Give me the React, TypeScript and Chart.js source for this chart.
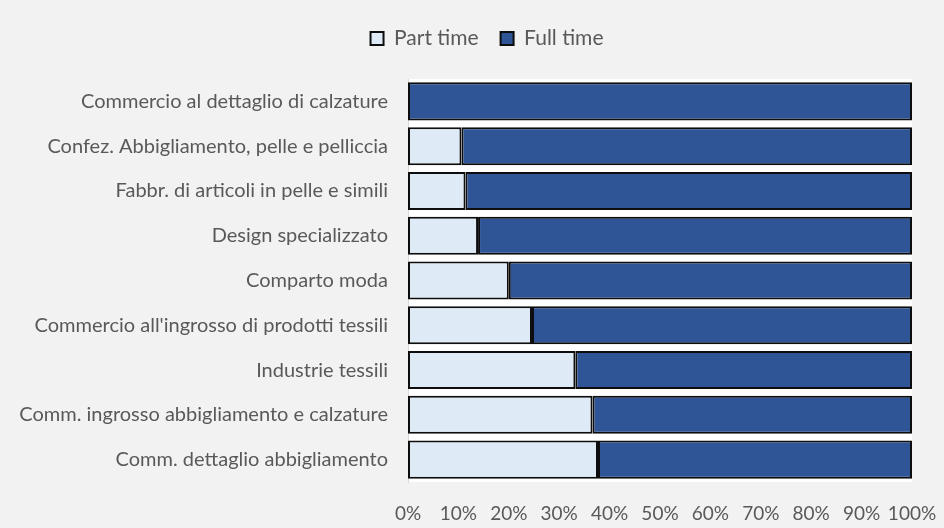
import React, { useEffect, useRef } from "react";
import { Chart, registerables } from "chart.js";

Chart.register(...registerables);

const categories = [
  "Commercio al dettaglio di calzature",
  "Confez. Abbigliamento, pelle e pelliccia",
  "Fabbr. di articoli in pelle e simili",
  "Design specializzato",
  "Comparto moda",
  "Commercio all'ingrosso di prodotti tessili",
  "Industrie tessili",
  "Comm. ingrosso abbigliamento e calzature",
  "Comm. dettaglio abbigliamento",
];
const partTime = [0, 10.6, 11.4, 13.9, 20.0, 24.6, 33.2, 36.6, 37.7];
const fullTime = [100, 89.4, 88.6, 86.1, 80.0, 75.4, 66.8, 63.4, 62.3];
const seriesNames = ["Part time", "Full time"];

const FONT = "Lato, 'Open Sans', sans-serif";
const TEXT = "#595959";

const bgPlugin = {
  id: "bgPlugin",
  afterLayout(chart: any) {
    // centre the legend over the whole figure like the original (shift right)
    const lg = chart.legend;
    if (lg) {
      lg.left += 31;
      lg.right += 31;
    }
  },
  beforeDraw(chart: any) {
    const { ctx, chartArea, width, height } = chart;
    ctx.save();
    ctx.fillStyle = "#f2f2f2";
    ctx.fillRect(0, 0, width, height);
    ctx.fillStyle = "#ffffff";
    ctx.fillRect(chartArea.left, chartArea.top, chartArea.right - chartArea.left, chartArea.bottom - chartArea.top);
    ctx.restore();
  },
};

export default function App() {
  const ref = useRef<HTMLCanvasElement>(null);
  useEffect(() => {
    const chart = new Chart(ref.current!, {
      type: "bar",
      data: {
        labels: categories,
        datasets: [
          {
            label: seriesNames[0],
            data: partTime,
            backgroundColor: "#DEEBF7",
            borderColor: "#0d0d0d",
            borderWidth: 2,
            borderSkipped: false,
            categoryPercentage: 0.85,
            barPercentage: 1,
          },
          {
            label: seriesNames[1],
            data: fullTime,
            backgroundColor: "#2F5597",
            borderColor: "#0d0d0d",
            borderWidth: 2,
            borderSkipped: false,
            categoryPercentage: 0.85,
            barPercentage: 1,
          },
        ],
      },
      options: {
        indexAxis: "y",
        responsive: false,
        animation: false,
        layout: { padding: { left: 0, right: 32, top: 6, bottom: 0 } },
        plugins: {
          legend: {
            position: "top",
            labels: {
              font: { family: FONT, size: 21 },
              color: TEXT,
              boxWidth: 13,
              boxHeight: 13,
              padding: 22,
            },
          },
          tooltip: { enabled: false },
        },
        scales: {
          x: {
            stacked: true,
            min: 0,
            max: 100,
            grid: { display: false, drawTicks: false },
            border: { display: false },
            ticks: {
              stepSize: 10,
              callback: (v: any) => v + "%",
              font: { family: FONT, size: 19 },
              color: TEXT,
              padding: 20,
              maxRotation: 0,
              autoSkip: false,
            },
            afterFit: (s: any) => {
              s.height = 46;
              s.paddingLeft = 0;
              s.paddingRight = 0;
            },
          },
          xTop: {
            type: "linear",
            axis: "x",
            position: "top",
            display: true,
            grid: { display: false, drawTicks: false },
            border: { display: false },
            ticks: { display: false },
            afterFit: (s: any) => {
              s.height = 20;
              s.paddingLeft = 0;
              s.paddingRight = 0;
            },
          },
          y: {
            stacked: true,
            grid: { display: false, drawTicks: false },
            border: { display: true, color: "#d9d9d9", width: 1 },
            ticks: {
              font: { family: FONT, size: 20 },
              color: TEXT,
              padding: 20,
              autoSkip: false,
            },
            afterFit: (s: any) => {
              s.width = 408;
              s.paddingTop = 0;
              s.paddingBottom = 0;
            },
          },
        },
      },
      plugins: [bgPlugin],
    } as any);
    return () => chart.destroy();
  }, []);
  return (
    <div style={{ position: "absolute", left: 0, top: 0, width: 944, height: 528 }}>
      <canvas ref={ref} width={944} height={528} />
    </div>
  );
}
